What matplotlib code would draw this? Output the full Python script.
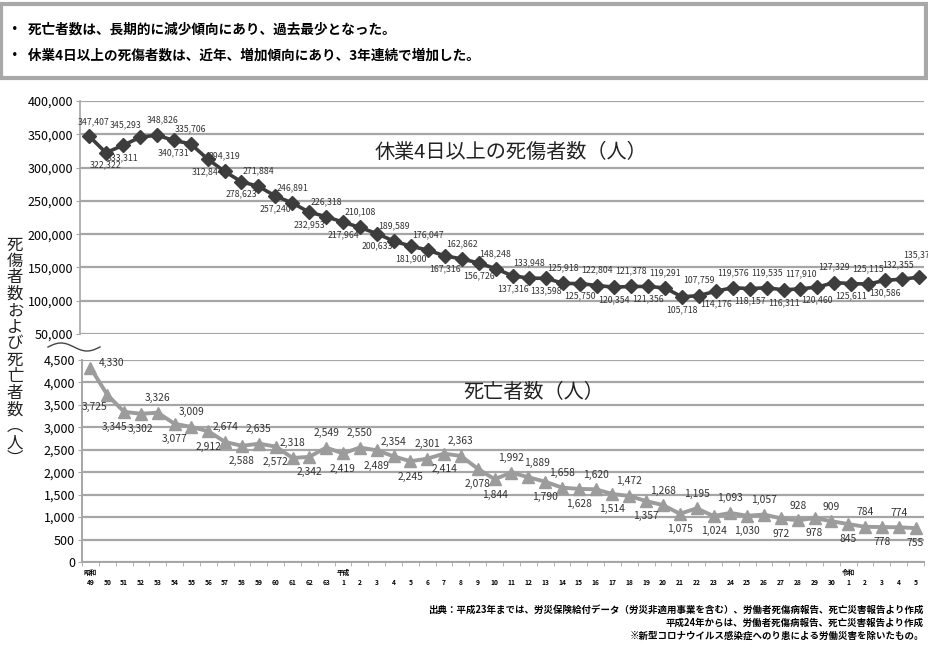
import matplotlib
matplotlib.use("Agg")
import matplotlib.pyplot as plt
import numpy as np
from matplotlib.patches import Rectangle

plt.rcParams['font.family'] = ['Noto Sans CJK JP', 'DejaVu Sans']

# ---------------- data ----------------
years = [str(y) for y in range(49, 64)] + [str(y) for y in range(1, 31)] + [str(y) for y in range(1, 6)]
eras = {0: "昭和", 15: "平成", 45: "令和"}

injuries = [347407, 322322, 333311, 345293, 348826, 340731, 335706, 312844, 294319, 278623,
            271884, 257240, 246891, 232953, 226318, 217964, 210108, 200633, 189589, 181900,
            176047, 167316, 162862, 156726, 148248, 137316, 133948, 133598, 125918, 125750,
            122804, 120354, 121378, 121356, 119291, 105718, 107759, 114176, 119576, 118157,
            119535, 116311, 117910, 120460, 127329, 125611, 125115, 130586, 132355, 135371]

deaths = [4330, 3725, 3345, 3302, 3326, 3077, 3009, 2912, 2674, 2588,
          2635, 2572, 2318, 2342, 2549, 2419, 2550, 2489, 2354, 2245,
          2301, 2414, 2363, 2078, 1844, 1992, 1889, 1790, 1658, 1628,
          1620, 1514, 1472, 1357, 1268, 1075, 1195, 1024, 1093, 1030,
          1057, 972, 928, 978, 909, 845, 784, 778, 774, 755]

# label placement codes (a = above, b = below, with variants)
inj_place = list("abbaab" + "ab" * 22)
inj_place[0] = 'ar'
inj_place[3] = 'al'
inj_place[4] = 'ar2'
inj_place[48] = 'al2'
inj_place[49] = 'ah'
death_place = ['r', 'l', 'bl', 'b', 'a', 'b', 'a', 'b', 'a', 'b',
               'a', 'b', 'a', 'b', 'a', 'b', 'a', 'b', 'a', 'b',
               'a', 'b', 'a', 'b', 'b', 'a', 'ar', 'b', 'a', 'b',
               'a', 'b', 'a', 'b', 'a', 'b', 'a', 'b', 'a', 'b',
               'a', 'b', 'a', 'b', 'a', 'b', 'a', 'b', 'a', 'b']

header_lines = ["・  死亡者数は、長期的に減少傾向にあり、過去最少となった。",
                "・  休業4日以上の死傷者数は、近年、増加傾向にあり、3年連続で増加した。"]
source_lines = ["出典：平成23年までは、労災保険給付データ（労災非適用事業を含む）、労働者死傷病報告、死亡災害報告より作成",
                "平成24年からは、労働者死傷病報告、死亡災害報告より作成",
                "※新型コロナウイルス感染症へのり患による労働災害を除いたもの。"]

# ---------------- layout ----------------
W, H = 929, 646
fig = plt.figure(figsize=(W / 100, H / 100), dpi=100)

X0, DX = 89.0, 16.94  # pixel of first category and spacing


def fx(px):
    return px / W


def fy(py):
    return 1 - py / H


def add_axes_px(left, top, right, bottom):
    ax = fig.add_axes([left / W, 1 - bottom / H, (right - left) / W, (bottom - top) / H])
    ax.set_xlim((left - X0) / DX, (right - X0) / DX)
    return ax


grid_c = "#a6a6a6"
x = np.arange(len(years))

# header box
fig.patches.append(Rectangle((fx(1.5), fy(78)), fx(925), fy(4) - fy(78), transform=fig.transFigure,
                             fill=False, edgecolor="#a8a8a8", linewidth=3))
fig.text(fx(8), fy(30), header_lines[0], fontsize=9.8, fontweight="bold", va="center", ha="left")
fig.text(fx(8), fy(56), header_lines[1], fontsize=9.8, fontweight="bold", va="center", ha="left")

# ---------------- top panel ----------------
ax1 = add_axes_px(80, 101, 924, 334)
ax1.set_ylim(50000, 400000)
ax1.set_yticks(np.arange(50000, 400001, 50000))
ax1.set_yticklabels([f"{v:,}" for v in range(50000, 400001, 50000)], fontsize=9)
ax1.yaxis.grid(True, color=grid_c, linewidth=1.6)
ax1.set_axisbelow(True)
for s in ["top", "right", "bottom"]:
    ax1.spines[s].set_visible(False)
ax1.spines["left"].set_color(grid_c)
ax1.spines["left"].set_linewidth(1.2)
ax1.tick_params(axis="y", length=3, color=grid_c, pad=2)
ax1.set_xticks([])
ax1.plot(x, injuries, color="#3d3d3d", linewidth=2.6, marker="D", markersize=7,
         markerfacecolor="#3d3d3d", markeredgecolor="#3d3d3d", clip_on=False, zorder=3)
inj_offsets = {'a': (0, 11), 'b': (0, -9), 'ar': (3, 10), 'al': (-10, 9),
               'ar2': (4, 11), 'al2': (-3, 10), 'ah': (0, 16)}
for i, (v, p) in enumerate(zip(injuries, inj_place)):
    ax1.annotate(f"{v:,}", (i, v), xytext=inj_offsets[p], textcoords="offset points",
                 ha="center", va="center", fontsize=6.3, color="#333333", annotation_clip=False)
ax1.text(0.51, 0.78, "休業4日以上の死傷者数（人）", transform=ax1.transAxes, fontsize=14.5,
         ha="center", va="center", color="#222222")

# ---------------- bottom panel ----------------
ax2 = add_axes_px(82, 360, 924, 562)
ax2.set_ylim(0, 4500)
ax2.set_yticks(np.arange(0, 4501, 500))
ax2.set_yticklabels([f"{v:,}" for v in range(0, 4501, 500)], fontsize=9)
ax2.yaxis.grid(True, color=grid_c, linewidth=1.6)
ax2.set_axisbelow(True)
for s in ["top", "right"]:
    ax2.spines[s].set_visible(False)
for s in ["left", "bottom"]:
    ax2.spines[s].set_color(grid_c)
    ax2.spines[s].set_linewidth(1.4)
ax2.tick_params(axis="y", length=3, color=grid_c, pad=2)
ax2.set_xticks(x)
ax2.set_xticklabels(years, fontsize=4.8, fontweight="bold")
ax2.set_xticks(np.arange(-0.5, len(years), 1), minor=True)
ax2.tick_params(axis="x", which="major", length=0, pad=12.5)
ax2.tick_params(axis="x", which="minor", length=3, color=grid_c, direction="out")
for i, name in eras.items():
    ax2.annotate(name, (i, 0), xytext=(0, -7.3), textcoords="offset points", ha="center", va="center",
                 fontsize=4.8, fontweight="bold", annotation_clip=False)
ax2.plot(x, deaths, color="#9c9c9c", linewidth=2.8, marker="^", markersize=8,
         markerfacecolor="#9c9c9c", markeredgecolor="#9c9c9c", clip_on=False, zorder=3)
death_offsets = {'a': (0, 10.5), 'b': (0, -11), 'bl': (-7, -11), 'r': (15, 3),
                 'l': (-9, -9), 'ar': (6, 10.5)}
for i, (v, p) in enumerate(zip(deaths, death_place)):
    ax2.annotate(f"{v:,}", (i, v), xytext=death_offsets[p], textcoords="offset points",
                 ha="center", va="center", fontsize=7.4, color="#333333", annotation_clip=False)
ax2.text(0.537, 0.837, "死亡者数（人）", transform=ax2.transAxes, fontsize=14.5,
         ha="center", va="center", color="#222222")

# axis break wave
t = np.linspace(0, 1, 60)
wx = 48 + 52 * t
wy = 347 - 4 * np.sin(2 * np.pi * t)
fig.add_artist(plt.Line2D(fx(wx), fy(wy), transform=fig.transFigure, color="#444444", linewidth=1.0))

# y label (vertical stacked)
ylab = "死傷者数および死亡者数︵人︶"
fig.text(fx(15), fy(352), "\n".join(ylab), fontsize=11.8, ha="center", va="center",
         linespacing=0.96, color="#222222")

# source
for k, (line, py) in enumerate(zip(source_lines, [610, 623, 636])):
    fig.text(fx(924), fy(py), line, fontsize=6.8, fontweight="bold", ha="right", va="center")

fig.savefig("out.png", dpi=100)
